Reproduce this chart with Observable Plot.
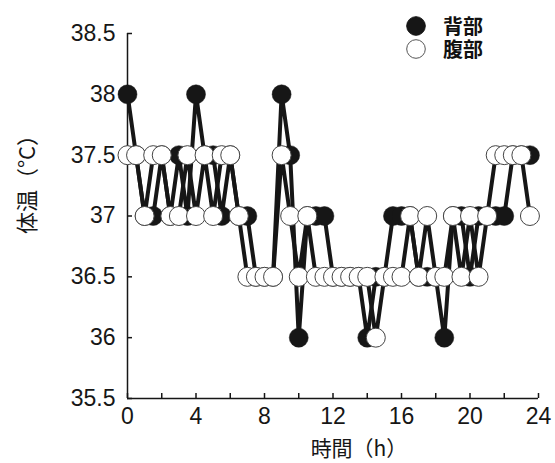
<!DOCTYPE html>
<html><head><meta charset="utf-8">
<script src="https://cdn.jsdelivr.net/npm/d3@7"></script>
<script src="https://cdn.jsdelivr.net/npm/@observablehq/plot@0.6"></script>
<style>
html,body{margin:0;padding:0;background:#fff;}
#wrap{position:relative;width:555px;height:463px;}
#legend{position:absolute;left:406px;top:14px;display:flex;font-family:"Noto Sans CJK JP",sans-serif;font-weight:bold;font-size:20px;color:#111;}
#legend .sym{display:flex;flex-direction:column;margin-right:17px;}
#legend .sym svg{display:block;margin:1.5px 0;}
#legend .lab{white-space:pre-line;line-height:23px;}
</style></head><body><div id="wrap"><div id="legend"><div class="sym"></div><div class="lab"></div></div></div>
<script>
const hours = [0,0.5,1,1.5,2,2.5,3,3.5,4,4.5,5,5.5,6,6.5,7,7.5,8,8.5,9,9.5,10,10.5,11,11.5,12,12.5,13,13.5,14,14.5,15,15.5,16,16.5,17,17.5,18,18.5,19,19.5,20,20.5,21,21.5,22,22.5,23,23.5];
const back  = [38,37.5,37,37,37.5,37,37.5,37,38,37.5, 37.5,37,37.5,37,37,36.5,36.5,36.5,38,37.5, 36,37,37,37,36.5,36.5,36.5,36.5,36,36.5, 36.5,37,37,37,36.5,36.5,36.5,36,37,37, 36.5,37,37,37,37,37.5,37.5,37.5];
const belly = [37.5,37.5,37,37.5,37.5,37,37,37.5,37,37.5, 37,37.5,37.5,37,36.5,36.5,36.5,36.5,37.5,37, 36.5,37,36.5,36.5,36.5,36.5,36.5,36.5,36.5,36, 36.5,36.5,36.5,37,36.5,37,36.5,36.5,37,36.5, 37,36.5,37,37.5,37.5,37.5,37.5,37];
const seriesNames = ["背部", "腹部"];
const yTicks = [35.5,36,36.5,37,37.5,38,38.5];
const xLabelTicks = [0,4,8,12,16,20,24];
const xMinorTicks = [0,2,4,6,8,10,12,14,16,18,20,22,24];
const xTitle = "時間（h）";
const yTitle = "体温（°C）";

const backData = hours.map((h, i) => ({h, v: back[i]}));
const bellyData = hours.map((h, i) => ({h, v: belly[i]}));
const ink = "#161616";
const cjk = "'Noto Sans CJK JP', sans-serif";
const fmt = d => String(d);

const chart = Plot.plot({
  width: 555, height: 463,
  marginLeft: 127, marginRight: 17, marginTop: 33, marginBottom: 65,
  style: {fontFamily: "'Liberation Sans', Arial, sans-serif", color: ink, background: "white"},
  x: {domain: [0, 24]},
  y: {domain: [35.5, 38.5]},
  marks: [
    Plot.ruleX([0], {stroke: ink, strokeWidth: 1.5}),
    Plot.ruleY([35.5], {stroke: ink, strokeWidth: 1.5}),
    Plot.axisY({ticks: yTicks, tickSize: -5, fill: "none", label: null, strokeWidth: 1.5}),
    Plot.axisY({ticks: yTicks, tickSize: 0, tickPadding: 12, fontSize: 23, label: null, tickFormat: fmt}),
    Plot.axisX({ticks: xMinorTicks, tickSize: -5, fill: "none", label: null, strokeWidth: 1.5}),
    Plot.axisX({ticks: xLabelTicks, tickSize: 0, tickPadding: 9, fontSize: 23, label: null, tickFormat: fmt}),
    Plot.line(backData, {x: "h", y: "v", stroke: ink, strokeWidth: 4}),
    Plot.dot(backData, {x: "h", y: "v", r: 9.5, fill: ink, stroke: ink, strokeWidth: 0.5}),
    Plot.line(bellyData, {x: "h", y: "v", stroke: ink, strokeWidth: 4}),
    Plot.dot(bellyData, {x: "h", y: "v", r: 9.5, fill: "white", stroke: "#444", strokeWidth: 1}),
    Plot.text([yTitle], {frameAnchor: "left", textAnchor: "middle", lineAnchor: "middle", dx: -100, dy: -37, rotate: -90, fontSize: 22, fontFamily: cjk, fill: ink}),
    Plot.text([xTitle], {frameAnchor: "bottom", textAnchor: "middle", lineAnchor: "middle", dx: 26, dy: 51, fontSize: 21, fontFamily: cjk, fill: ink})
  ]
});
document.getElementById("wrap").prepend(chart);

const sym = d3.select("#legend .sym");
seriesNames.forEach((name, i) => {
  const svg = sym.append("svg").attr("width", 20).attr("height", 20);
  svg.append("circle").attr("cx", 10).attr("cy", 10).attr("r", 9.3)
    .attr("fill", i === 0 ? ink : "white").attr("stroke", i === 0 ? ink : "#555").attr("stroke-width", 1);
});
d3.select("#legend .lab").text(seriesNames.join("\n"));
</script>
</body></html>
